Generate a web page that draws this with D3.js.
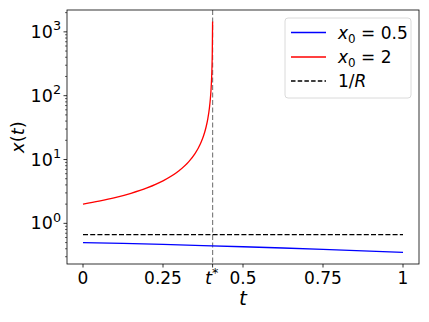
<!DOCTYPE html>
<html>
<head>
<meta charset="utf-8">
<script src="https://cdn.jsdelivr.net/npm/d3@7"></script>
<style>
  body { margin: 0; background: #fff; }
  svg { font-family: "DejaVu Sans", sans-serif; }
</style>
</head>
<body>
<svg id="chart" width="429" height="322"></svg>
<script>
// values
var tRed = [0, 0.05, 0.1, 0.15, 0.2, 0.25, 0.3, 0.33, 0.35, 0.36, 0.37, 0.38, 0.385, 0.39, 0.395, 0.398, 0.4, 0.402, 0.403, 0.404, 0.405];
var xRed = [2, 2.23, 2.53, 2.96, 3.59, 4.63, 6.66, 9.17, 12.4, 15, 19.1, 26.5, 32.9, 43.4, 64, 89.6, 122, 193, 270, 455, 1450];
var tBlue = [0, 0.125, 0.25, 0.375, 0.5, 0.625, 0.75, 0.875, 1];
var xBlue = [0.5, 0.484, 0.467, 0.449, 0.43, 0.411, 0.391, 0.37, 0.35];
var invR = 0.667;
var tStar = 0.405;
var xTicks = [0, 0.25, 0.5, 0.75, 1];
var xTickLabels = ["0", "0.25", "0.5", "0.75", "1"];
var yTicks = [1, 10, 100, 1000];
var legendLabels = [["0.5", "blue"], ["2", "red"]];

var svg = d3.select("#chart");
var margin = {left: 67, right: 10, top: 10, bottom: 58};
var W = 429, H = 322;
var fs = 17;

// x scale with matplotlib style 5% margin
var x = d3.scaleLinear().domain([-0.05, 1.05]).range([margin.left, W - margin.right]);

// log y scale, 5% margin in decades
var lo = Math.log10(d3.min(xBlue)), hi = Math.log10(d3.max(xRed));
var pad = (hi - lo) * 0.05;
var y = d3.scaleLog().domain([Math.pow(10, lo - pad), Math.pow(10, hi + pad)]).range([H - margin.bottom, margin.top]);

var x0 = margin.left, x1 = W - margin.right, yTop = margin.top, yBot = H - margin.bottom;

var line = d3.line().x(function(d) { return x(d[0]); }).y(function(d) { return y(d[1]); });

// vertical t* line
svg.append("line")
  .attr("x1", x(tStar)).attr("x2", x(tStar))
  .attr("y1", yTop).attr("y2", yBot)
  .attr("stroke", "#808080").attr("stroke-width", 1.2)
  .attr("stroke-dasharray", "5,2.5");

// 1/R
svg.append("line")
  .attr("x1", x(0)).attr("x2", x(1))
  .attr("y1", y(invR)).attr("y2", y(invR))
  .attr("stroke", "#000").attr("stroke-width", 1.3)
  .attr("stroke-dasharray", "5,2.2");

svg.append("path")
  .attr("d", line(d3.zip(tBlue, xBlue)))
  .attr("fill", "none").attr("stroke", "#0000ff").attr("stroke-width", 1.3);

svg.append("path")
  .attr("d", line.curve(d3.curveMonotoneX)(d3.zip(tRed, xRed)))
  .attr("fill", "none").attr("stroke", "#ff0000").attr("stroke-width", 1.3);

// frame
svg.append("rect")
  .attr("x", x0).attr("y", yTop).attr("width", x1 - x0).attr("height", yBot - yTop)
  .attr("fill", "none").attr("stroke", "#000").attr("stroke-width", 0.8);

// x ticks
var xt = svg.append("g");
var allX = xTicks.concat([tStar]);
allX.forEach(function(v) {
  xt.append("line").attr("x1", x(v)).attr("x2", x(v)).attr("y1", yBot).attr("y2", yBot + 3.5)
    .attr("stroke", "#000").attr("stroke-width", 0.8);
});
xTicks.forEach(function(v, i) {
  xt.append("text").attr("x", x(v)).attr("y", yBot + 19.5).attr("text-anchor", "middle")
    .attr("font-size", fs).text(xTickLabels[i]);
});
var ts = xt.append("text").attr("x", x(tStar) - 1).attr("y", yBot + 19.5).attr("text-anchor", "middle")
  .attr("font-size", fs + 1);
ts.append("tspan").attr("font-style", "italic").text("t");
ts.append("tspan").attr("font-size", fs * 0.75).attr("dy", -7).text("*");

// y ticks
var yt = svg.append("g");
var dom = y.domain();
for (var k = -1; k <= 3; k++) {
  for (var m = 2; m <= 9; m++) {
    var v = m * Math.pow(10, k);
    if (v < dom[0] || v > dom[1]) continue;
    yt.append("line").attr("x1", x0 - 2).attr("x2", x0).attr("y1", y(v)).attr("y2", y(v))
      .attr("stroke", "#000").attr("stroke-width", 0.6);
  }
}
yTicks.forEach(function(v) {
  yt.append("line").attr("x1", x0 - 3.5).attr("x2", x0).attr("y1", y(v)).attr("y2", y(v))
    .attr("stroke", "#000").attr("stroke-width", 0.8);
  var t = yt.append("text").attr("x", x0 - 6).attr("y", y(v) + 6).attr("text-anchor", "end")
    .attr("font-size", fs + 0.5);
  t.append("tspan").text("10");
  t.append("tspan").attr("font-size", fs * 0.75).attr("dy", -7.5).text(Math.round(Math.log10(v)));
});

// axis labels
svg.append("text").attr("x", (x0 + x1) / 2).attr("y", 305).attr("text-anchor", "middle")
  .attr("font-size", fs + 3).attr("font-style", "italic").text("t");

var yl = svg.append("text").attr("transform", "translate(24," + ((yTop + yBot) / 2) + ") rotate(-90)")
  .attr("text-anchor", "middle").attr("font-size", fs + 1);
yl.append("tspan").attr("font-style", "italic").text("x");
yl.append("tspan").text("(");
yl.append("tspan").attr("font-style", "italic").text("t");
yl.append("tspan").text(")");

// legend
var lg = svg.append("g");
lg.append("rect").attr("x", 285).attr("y", 18).attr("width", 126).attr("height", 80).attr("rx", 3)
  .attr("fill", "#fff").attr("fill-opacity", 0.8).attr("stroke", "#d0d0d0").attr("stroke-width", 0.8);
var rowY = [32.5, 57, 81];
legendLabels.forEach(function(d, i) {
  lg.append("line").attr("x1", 291).attr("x2", 326).attr("y1", rowY[i]).attr("y2", rowY[i])
    .attr("stroke", d[1]).attr("stroke-width", 1.3);
  var t = lg.append("text").attr("x", 338).attr("y", rowY[i] + 6).attr("font-size", fs);
  t.append("tspan").attr("font-style", "italic").text("x");
  t.append("tspan").attr("font-size", fs * 0.7).attr("dy", 4).text("0");
  t.append("tspan").attr("dy", -4).text(" = " + d[0]);
});
lg.append("line").attr("x1", 291).attr("x2", 326).attr("y1", rowY[2]).attr("y2", rowY[2])
  .attr("stroke", "#000").attr("stroke-width", 1.3).attr("stroke-dasharray", "4.5,2.2");
var rl = lg.append("text").attr("x", 338).attr("y", rowY[2] + 6).attr("font-size", fs);
rl.append("tspan").text("1/");
rl.append("tspan").attr("font-style", "italic").text("R");
</script>
</body>
</html>
